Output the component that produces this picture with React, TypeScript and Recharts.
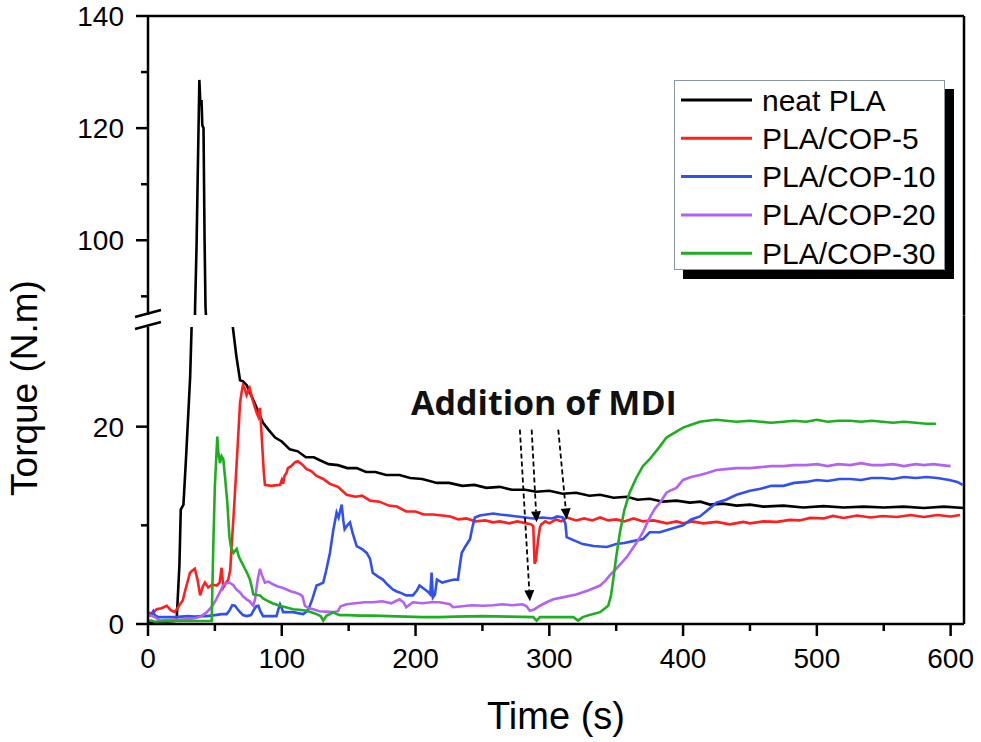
import {
  Label, Legend, Line, LineChart, ReferenceDot, ReferenceLine, XAxis, YAxis,
} from "recharts";

type Pt = [number, number];

// torque (N.m) against time (s)
const neatPla: Pt[] = [
  [0, 0.2], [10, 0.2], [20, 0.3], [21.5, 0.6], [23.5, 6], [24.5, 11.6], [26.5, 12.1], [28.5, 17],
  [31.5, 25], [33, 32], [34.5, 70], [35.2, 88], [36.3, 99], [37.2, 112], [38.4, 128.6], [39.2, 124],
  [40, 125], [40.6, 120.5], [41.5, 120], [42.3, 100], [43, 88], [44, 84], [48, 62], [54, 44],
  [60, 35], [63.5, 30], [66, 27.2], [68.8, 24.7], [71, 24.6], [73.8, 24.2], [77, 23.2], [80, 22.3],
  [83, 21.3], [86, 20.4], [90, 19.7], [95, 18.9], [100, 18.5], [106, 17.7], [112, 17.5], [118, 16.9],
  [124, 16.9], [128.5, 16.6], [135, 16.2], [142, 16.1], [149, 15.8], [156, 15.8], [163, 15.4],
  [170, 15.4], [178, 15.1], [188, 15.1], [196, 14.8], [205, 14.7], [216, 14.3], [225, 14.3],
  [235, 14.0], [244, 14.1], [253, 13.8], [263, 13.9], [272, 13.6], [282, 13.6], [290, 13.4],
  [300, 13.5], [310, 13.2], [320, 13.3], [330, 13.0], [338, 13.1], [348, 12.8], [358, 12.9],
  [366, 12.6], [375, 12.7], [385, 12.4], [395, 12.5], [405, 12.3], [413, 12.4], [420, 12.1],
  [430, 12.2], [440, 12.0], [450, 12.1], [460, 11.9], [475, 12.0], [490, 11.8], [505, 11.95],
  [520, 11.8], [535, 11.9], [550, 11.8], [565, 11.9], [580, 11.75], [595, 11.9], [610, 11.75],
];

const pla5: Pt[] = [
  [0, 1.2], [3, 1.0], [6.5, 1.5], [10, 1.6], [14, 1.85], [17, 1.4], [20, 1.2], [23, 1.8], [26, 2.4],
  [28, 3.5], [31.4, 5.2], [33, 5.4], [35, 5.6], [37, 4.5], [39, 2.9], [41, 3.8], [42.6, 4.2],
  [45, 3.7], [48, 4.0], [51.3, 3.9], [53.5, 4.2], [55, 5.7], [56.3, 3.7], [58, 4.1], [60, 4.5],
  [61.5, 5.5], [62.5, 7.9], [64, 11], [65, 13.3], [67, 18], [68.8, 22.4], [70, 23.5], [71, 24.2],
  [72.5, 23.8], [73.7, 23.2], [75, 23.6], [76, 23.9], [78, 22.8], [80, 21.9], [81.5, 21.3],
  [82.5, 21.0], [83.7, 21.9], [85, 19], [86.5, 15.5], [87.4, 14.1], [92, 14.0], [98.7, 14.1],
  [100, 14.6], [101, 14.2], [102, 15.0], [103.5, 15.3], [104.6, 15.8], [107, 16.0], [110, 16.4],
  [112, 16.5], [115, 16.2], [118.6, 15.7], [122, 15.5], [126, 15.0], [131, 14.7], [136, 14.2],
  [142, 13.9], [148.5, 13.1], [155, 12.9], [160, 13.0], [166, 12.5], [173, 12.4], [180, 12.0],
  [186, 11.9], [193, 11.4], [200, 11.4], [206, 11.1], [213, 11.1], [220, 11.0], [226, 10.9],
  [232, 10.6], [238, 10.7], [245, 10.4], [252, 10.5], [258, 10.3], [263, 10.4], [270, 10.2],
  [276, 10.4], [283, 10.2], [286.5, 10.1], [288, 9.9], [289, 6.1], [290, 6.5], [291.7, 8.6],
  [293, 9.8], [294, 10.1], [297, 10.4], [300, 10.2], [305, 10.6], [309, 10.4], [313, 10.8],
  [320, 10.5], [326, 10.7], [332, 10.5], [338, 10.8], [344, 10.5], [350, 10.6], [356, 10.4],
  [363, 10.7], [370, 10.4], [378, 10.5], [388, 10.2], [395, 10.4], [400, 10.2], [407, 10.4],
  [415, 10.2], [425, 10.35], [435, 10.1], [445, 10.35], [450, 10.2], [460, 10.4], [470, 10.35],
  [480, 10.55], [487, 10.5], [495, 10.75], [505, 10.7], [512, 10.95], [520, 10.75], [530, 11.0],
  [540, 10.8], [549, 10.95], [560, 10.85], [570, 11.05], [580, 10.85], [590, 11.05], [600, 10.9],
  [607, 11.05],
];

const pla10: Pt[] = [
  [2, 0.9], [3.9, 1.3], [5, 0.9], [7.7, 0.7], [12, 0.7], [18.9, 0.7], [25, 0.75], [30, 0.8],
  [35, 0.75], [40, 0.8], [44, 0.8], [50, 0.9], [55, 1.0], [58.8, 1.0], [61, 1.4], [63, 1.9],
  [65, 1.85], [67, 1.5], [68.8, 1.2], [71, 0.9], [73.7, 0.8], [77, 0.9], [79, 1.4], [81, 1.8],
  [82.5, 1.85], [84, 1.3], [86, 0.8], [90, 0.8], [96, 0.8], [97.5, 1.5], [98.7, 2.0], [100, 1.6],
  [101, 1.2], [105, 1.2], [108.5, 1.2], [112, 1.1], [116, 1.0], [119, 1.3], [121, 1.85], [123, 2.6],
  [126, 3.9], [128, 4.0], [131, 4.2], [133, 5.3], [136, 7.2], [138.5, 9.5], [141, 11.3],
  [142.5, 10.8], [144.8, 12.1], [146, 10.5], [147, 9.6], [149, 10.0], [151, 10.3], [153, 9.2],
  [156, 7.9], [160, 7.6], [163.5, 7.2], [166, 6.6], [168, 5.2], [172, 4.8], [175.6, 4.5], [179, 4.0],
  [183, 3.5], [186, 3.3], [188, 3.2], [193, 2.9], [198, 2.9], [201, 3.4], [203, 3.9], [206, 3.6],
  [209, 3.3], [211, 3.0], [212, 5.2], [213, 2.7], [214.5, 3.0], [216, 4.5], [220, 4.2],
  [225.7, 4.4], [229, 4.5], [231.7, 4.5], [233, 5.8], [234.5, 7.2], [237, 7.8], [240.7, 8.6],
  [242.5, 9.8], [244.4, 10.8], [248, 11.0], [253, 11.1], [258, 11.2], [263, 11.1], [270, 11.0],
  [276, 10.9], [282, 10.8], [288, 10.7], [295, 10.8], [302, 10.7], [306, 10.9], [310, 10.8],
  [312, 10.2], [313, 8.8], [318, 8.5], [325, 8.1], [333, 7.9], [343, 7.8], [350, 8.1], [356, 8.2],
  [362.6, 8.4], [370, 8.6], [375, 9.3], [382.7, 9.3], [390, 9.6], [400, 10.0], [406, 10.6],
  [412.6, 10.9], [418, 11.5], [425, 12.3], [432, 12.6], [440, 13.1], [450, 13.5], [458, 13.7],
  [466, 14.0], [475, 14.0], [483, 14.3], [492, 14.4], [500, 14.6], [508, 14.5], [517, 14.7],
  [525, 14.7], [533, 14.6], [541, 14.8], [549, 14.8], [557, 14.7], [565, 14.9], [574, 14.8],
  [582, 14.9], [590, 14.8], [599, 14.6], [605, 14.4], [609, 14.1],
];

const pla20: Pt[] = [
  [0, 0.9], [3, 0.8], [5, 0.7], [9, 0.35], [15, 0.4], [20, 0.45], [25, 0.45], [31, 0.5], [36, 0.6],
  [40, 0.8], [44, 1.2], [48, 1.8], [51, 2.5], [54, 3.3], [56, 3.9], [58, 4.1], [61, 4.2], [64, 3.9],
  [66, 3.5], [68.8, 3.2], [71, 2.8], [73.7, 2.5], [76, 2.3], [78.7, 1.85], [80, 2.5], [82, 4.5],
  [83.7, 5.6], [85, 5.0], [87.4, 4.2], [90, 4.3], [93.7, 4.0], [97, 3.8], [100, 3.7], [103.6, 3.5],
  [107, 3.3], [110, 3.2], [113.6, 3.0], [115.5, 2.8], [117.3, 1.85], [120, 1.6], [123.5, 1.5],
  [128, 1.3], [133, 1.25], [138.5, 1.2], [142, 1.3], [144, 1.8], [148.5, 2.0], [155, 2.1],
  [162, 2.2], [168, 2.2], [175, 2.3], [182, 2.1], [188, 2.5], [191, 2.2], [193, 1.7], [198, 2.2],
  [205, 2.1], [212, 2.2], [218, 2.2], [225.7, 2.0], [228, 1.7], [235, 1.8], [242, 1.9],
  [250.5, 1.85], [258, 1.9], [265, 2.0], [272, 1.9], [280, 2.0], [283, 1.8], [285.5, 1.35],
  [289, 1.5], [293, 1.85], [298, 2.2], [303, 2.5], [310, 2.7], [320, 3.0], [329, 3.4], [338, 3.9],
  [342, 4.4], [345, 4.9], [350, 5.6], [354, 6.2], [358, 6.8], [363, 7.8], [366, 8.4], [370, 9.3],
  [373, 10.2], [376, 11.0], [379, 11.7], [382.7, 12.3], [387.6, 13.3], [390, 13.5], [395, 13.8],
  [400, 14.6], [406, 14.9], [412.6, 15.1], [418, 15.3], [425, 15.6], [432, 15.7], [440, 15.8],
  [450, 15.8], [458, 15.9], [466, 16.0], [475, 16.0], [483, 16.1], [492, 16.1], [500, 16.2],
  [508, 16.0], [516, 16.2], [525, 16.1], [533, 16.3], [541, 16.1], [549, 16.1], [557, 16.2],
  [565, 16.0], [574, 16.2], [580, 16.1], [587, 16.2], [593, 16.1], [600, 16.0],
];

const pla30: Pt[] = [
  [0, 0.3], [2.7, 0.35], [5, 0.2], [10, 0.25], [20, 0.3], [30, 0.3], [40, 0.3], [47.6, 0.3],
  [48.8, 7.9], [50, 14], [51.8, 19.0], [52.5, 17.5], [53.8, 16.3], [55, 17.0], [56.3, 16.7],
  [57.5, 15], [59.3, 12.3], [60.8, 8.9], [62, 7.8], [63.8, 7.2], [66.3, 7.6], [68, 6.8], [71.3, 5.9],
  [74, 5.2], [76.2, 4.5], [77.5, 3.8], [78.7, 3.0], [83.7, 2.9], [86, 2.6], [88.7, 2.4], [93, 2.1],
  [98.6, 1.85], [103, 1.7], [108.6, 1.5], [113, 1.45], [118.6, 1.35], [122, 1.2], [126, 1.0],
  [129, 0.8], [131, 0.35], [133.6, 0.85], [136, 1.0], [138.5, 1.2], [141, 1.0], [143.5, 0.9],
  [150, 0.9], [158, 0.85], [168, 0.85], [180, 0.8], [193, 0.75], [205, 0.7], [218, 0.7],
  [230, 0.75], [250, 0.8], [270, 0.75], [288, 0.7], [290.5, 0.35], [293, 0.7], [305, 0.7],
  [318, 0.7], [321.5, 0.35], [325, 0.7], [330, 0.9], [338, 1.2], [344, 1.85], [346, 2.8],
  [347.8, 4.5], [350, 6.8], [352.8, 9.3], [356, 11.5], [360, 13.3], [365, 14.8], [370, 16.0],
  [375, 16.7], [382.7, 18.0], [387.6, 18.9], [395, 19.5], [400, 19.9], [406, 20.2], [412.6, 20.5],
  [418, 20.6], [425, 20.7], [432, 20.6], [440, 20.5], [450, 20.6], [458, 20.5], [466, 20.4],
  [475, 20.5], [483, 20.6], [492, 20.5], [500, 20.7], [508, 20.5], [516, 20.6], [525, 20.6],
  [533, 20.5], [541, 20.6], [549, 20.5], [557, 20.4], [565, 20.5], [574, 20.4], [582, 20.3],
  [589, 20.3],
];

const seriesNames = ["neat PLA", "PLA/COP-5", "PLA/COP-10", "PLA/COP-20", "PLA/COP-30"];
const seriesColors = ["#000000", "#ff1f1f", "#3050f0", "#b462f2", "#1fae1f"];
const seriesData = [neatPla, pla5, pla10, pla20, pla30];

const xTicks = [0, 50, 100, 150, 200, 250, 300, 350, 400, 450, 500, 550, 600];
const xLabelled = [0, 100, 200, 300, 400, 500, 600];
const upperTicks = [90, 100, 110, 120, 130, 140];
const lowerTicks = [0, 10, 20];
const yLabelled = [0, 20, 100, 120, 140];

// dashed arrows marking the MDI addition: [t0, v0, t1, v1]
const mdiArrows: [number, number, number, number][] = [
  [278, 19.7, 285.5, 2.3],
  [286.8, 19.7, 290.5, 10.3],
  [306.7, 19.7, 313, 10.6],
];

const FONT = "'Liberation Sans', Arial, Helvetica, sans-serif";
const X_MAX = 610;
const toRows = (pts: Pt[]) => pts.map(([t, v]) => ({ t, v }));

function YTick(props: any) {
  const { x, y, payload } = props;
  const major = yLabelled.includes(payload.value);
  return (
    <g>
      <line x1={x - (major ? 12 : 7)} x2={x} y1={y} y2={y} stroke="#000" strokeWidth={2.5} />
      {major && (
        <text x={x - 24} y={y + 10} textAnchor="end" fontSize={28} fontFamily={FONT} fill="#000">
          {payload.value}
        </text>
      )}
    </g>
  );
}

function XTick(props: any) {
  const { x, y, payload } = props;
  const major = xLabelled.includes(payload.value);
  return (
    <g>
      <line x1={x} x2={x} y1={y} y2={y + (major ? 12 : 7)} stroke="#000" strokeWidth={2.5} />
      {major && (
        <text x={x} y={y + 44} textAnchor="middle" fontSize={28} fontFamily={FONT} fill="#000">
          {payload.value}
        </text>
      )}
    </g>
  );
}

function Arrow(props: any) {
  const { x1, y1, x2, y2 } = props;
  const len = Math.hypot(x2 - x1, y2 - y1);
  const ux = (x2 - x1) / len;
  const uy = (y2 - y1) / len;
  const bx = x2 - ux * 11;
  const by = y2 - uy * 11;
  return (
    <g>
      <line x1={x1} y1={y1} x2={bx} y2={by} stroke="#000" strokeWidth={1.8} strokeDasharray="5 3" />
      <polygon
        points={`${x2},${y2} ${bx - uy * 5},${by + ux * 5} ${bx + uy * 5},${by - ux * 5}`}
        fill="#000"
      />
    </g>
  );
}

function LegendBox() {
  const rowH = 38.3;
  return (
    <div style={{
      width: 271, height: 190, boxSizing: "border-box", background: "#fff",
      border: "1px solid #8a96a3", boxShadow: "9px 9px 0 #000",
    }}>
      <svg width={269} height={188}>
        {seriesNames.map((name, i) => {
          const cy = 19 + i * rowH;
          return (
            <g key={name}>
              <line x1={6} x2={77} y1={cy} y2={cy} stroke={seriesColors[i]} strokeWidth={3} />
              <text x={87} y={cy + 10.5} fontSize={30} fontFamily={FONT} fill="#000">{name}</text>
            </g>
          );
        })}
      </svg>
    </div>
  );
}

const axisLine = { stroke: "#000", strokeWidth: 2.5 };

export default function App() {
  return (
    <div style={{ position: "absolute", left: 0, top: 0, width: 981, height: 742, background: "#fff" }}>
      {/* lower panel: 0 - 30 */}
      <div style={{ position: "absolute", left: 0, top: 0 }}>
        <LineChart width={981} height={742} margin={{ top: 327, right: 17, bottom: 78, left: 88 }}>
          <XAxis
            type="number" dataKey="t" domain={[0, X_MAX]} ticks={xTicks} interval={0}
            allowDataOverflow height={40} tickSize={0} tickMargin={0} tickLine={false}
            axisLine={axisLine} tick={XTick}
          >
            <Label content={(p: any) => (
              <text x={p.viewBox.x + p.viewBox.width / 2} y={729} textAnchor="middle"
                fontSize={38} fontFamily={FONT} fill="#000">Time (s)</text>
            )} />
          </XAxis>
          <YAxis
            type="number" domain={[0, 30.1]} ticks={lowerTicks} interval={0} allowDataOverflow
            width={60} tickSize={0} tickMargin={0} tickLine={false} axisLine={axisLine} tick={YTick}
          >
            <Label content={() => (
              <text x={37} y={388} transform="rotate(-90 37 388)" textAnchor="middle"
                fontSize={37} fontFamily={FONT} fill="#000">Torque (N.m)</text>
            )} />
          </YAxis>
          <ReferenceLine segment={[{ x: X_MAX, y: 0 }, { x: X_MAX, y: 31.3 }]}
            stroke="#000" strokeWidth={2.5} ifOverflow="visible" />
          {seriesData.map((d, i) => (
            <Line key={seriesNames[i]} data={toRows(d)} dataKey="v" name={seriesNames[i]}
              type="linear" stroke={seriesColors[i]} strokeWidth={2.6} dot={false}
              isAnimationActive={false} />
          ))}
          {mdiArrows.map((a, i) => (
            <ReferenceLine key={i} segment={[{ x: a[0], y: a[1] }, { x: a[2], y: a[3] }]}
              shape={Arrow} ifOverflow="visible" />
          ))}
          <ReferenceDot x={296} y={21.2} ifOverflow="visible" shape={(p: any) => (
            <text x={p.cx} y={p.cy} textAnchor="middle" fontSize={34} fontWeight={700}
              fontFamily="'Open Sans', 'Noto Sans', sans-serif" fill="#111">Addition of MDI</text>
          )} />
        </LineChart>
      </div>
      {/* upper panel: 86.7 - 140 */}
      <div style={{ position: "absolute", left: 0, top: 0 }}>
        <LineChart width={981} height={742} margin={{ top: 16, right: 17, bottom: 427, left: 88 }}>
          <XAxis type="number" dataKey="t" domain={[0, X_MAX]} allowDataOverflow hide />
          <YAxis
            type="number" domain={[86.67, 140]} ticks={upperTicks} interval={0} allowDataOverflow
            width={60} tickSize={0} tickMargin={0} tickLine={false} axisLine={axisLine} tick={YTick}
          />
          <ReferenceLine y={140} stroke="#000" strokeWidth={2.5} ifOverflow="visible" />
          <ReferenceLine x={X_MAX} stroke="#000" strokeWidth={2.5} ifOverflow="visible" />
          <Line data={toRows(neatPla)} dataKey="v" name={seriesNames[0]} type="linear"
            stroke={seriesColors[0]} strokeWidth={2.6} dot={false} isAnimationActive={false} />
          <Legend
            layout="horizontal" verticalAlign="middle" align="center"
            wrapperStyle={{ left: 674, top: 80, right: "auto", bottom: "auto", width: 271, height: 190 }}
            content={() => <LegendBox />}
          />
        </LineChart>
      </div>
      {/* axis break marks */}
      <svg style={{ position: "absolute", left: 0, top: 0 }} width={981} height={742} pointerEvents="none">
        <line x1={135} y1={317} x2={161} y2={310} stroke="#000" strokeWidth={2.5} />
        <line x1={135} y1={329} x2={161} y2={322} stroke="#000" strokeWidth={2.5} />
      </svg>
    </div>
  );
}
